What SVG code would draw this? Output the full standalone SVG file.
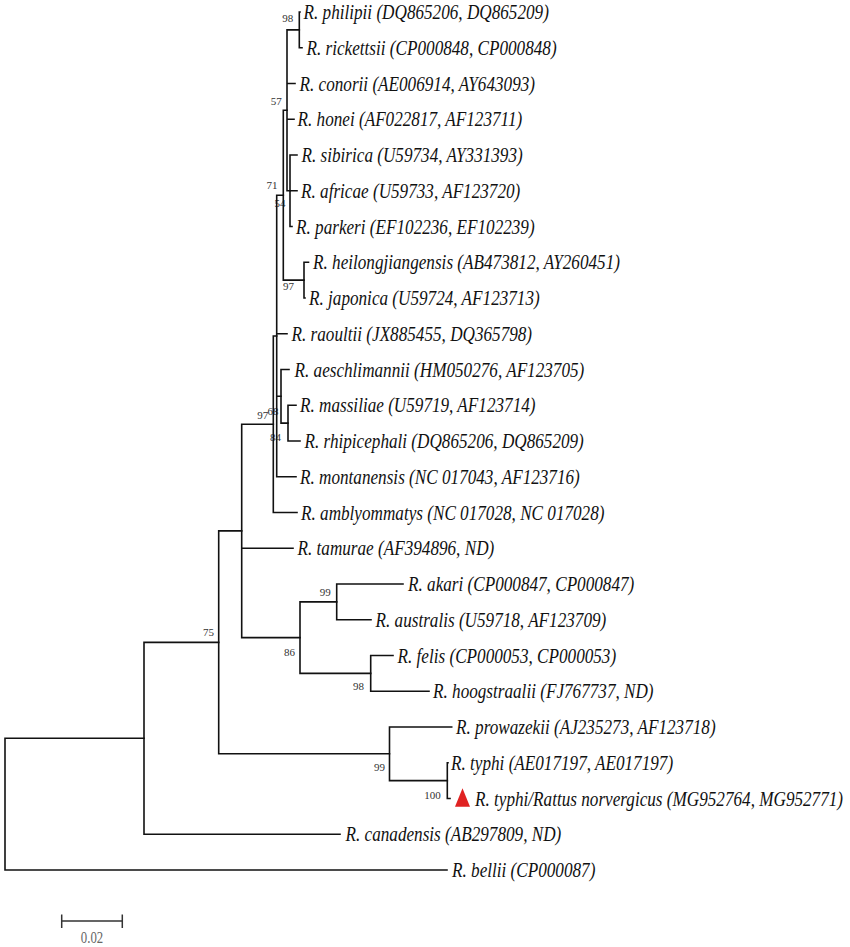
<svg xmlns="http://www.w3.org/2000/svg" width="850" height="947" viewBox="0 0 850 947">
<style>
.lf{font-family:"Liberation Serif","Times New Roman",serif;font-style:italic;font-size:22px;fill:#111}
.bs{font-family:"Liberation Serif","Times New Roman",serif;font-size:11px;fill:#333;text-anchor:end}
.br{fill:none;stroke:#111;stroke-width:1.6;stroke-linecap:square}
.sc{font-family:"Liberation Serif","Times New Roman",serif;font-size:16px;fill:#666;text-anchor:middle}
</style>
<rect width="850" height="947" fill="#fff"/>
<g id="bootstrap">
<text class="bs" x="293.3" y="22">98</text>
<text class="bs" x="281.7" y="104.5">57</text>
<text class="bs" x="277.5" y="188.5">71</text>
<text class="bs" x="285.5" y="206.5">54</text>
<text class="bs" x="294" y="290">97</text>
<text class="bs" x="268.3" y="418.5">97</text>
<text class="bs" x="278.5" y="415">68</text>
<text class="bs" x="281" y="441">84</text>
<text class="bs" x="214" y="635.5">75</text>
<text class="bs" x="330.7" y="595.5">99</text>
<text class="bs" x="295" y="655.5">86</text>
<text class="bs" x="364" y="690">98</text>
<text class="bs" x="385" y="771">99</text>
<text class="bs" x="440.7" y="799">100</text>
</g>
<g id="connectors" class="br">
<path d="M5,738.3 V870 M5,738.3 H144 M5,870 H447"/>
<path d="M144,642.4 V834.25 M144,642.4 H218.7 M144,834.25 H340"/>
<path d="M218.7,530.9 V753.8 M218.7,530.9 H241.7 M218.7,753.8 H389.5"/>
<path d="M241.7,424.25 V637.6 M241.7,424.25 H273.3 M241.7,548.25 H293 M241.7,637.6 H300"/>
<path d="M273.3,336 V512.5 M273.3,336 H276.7 M273.3,512.5 H297"/>
<path d="M276.7,195.2 V476.75 M276.7,195.2 H283.3 M276.7,333.75 H287 M276.7,396.3 H281 M276.7,476.75 H296"/>
<path d="M281,369.5 V423.1 M281,369.5 H289 M281,423.1 H288"/>
<path d="M288,405.25 V441 M288,405.25 H296 M288,441 H300"/>
<path d="M283.3,110.3 V280.1 M283.3,110.3 H287 M283.3,280.1 H304"/>
<path d="M304,262.25 V298 M304,262.25 H308.5 M304,298 H305"/>
<path d="M287,29.9 V190.75 M287,29.9 H299.3 M287,83.5 H295 M287,119.25 H294 M287,190.75 H290"/>
<path d="M299.3,12 V47.75 M299.3,12 H300 M299.3,47.75 H302"/>
<path d="M290,155 V226.5 M290,155 H297 M290,190.75 H297 M290,226.5 H292"/>
<path d="M300,601.9 V673.4 M300,601.9 H336.7 M300,673.4 H370.7"/>
<path d="M336.7,584 V619.75 M336.7,584 H403 M336.7,619.75 H371"/>
<path d="M370.7,655.5 V691.25 M370.7,655.5 H393 M370.7,691.25 H429"/>
<path d="M389.5,727 V780.6 M389.5,727 H451.7 M389.5,780.6 H447.3"/>
<path d="M447.3,762.75 V798.5 M447.3,762.75 H448 M447.3,798.5 H450"/>
</g>
<g id="leaf-philipii"><text class="lf" transform="translate(303.5,19) scale(0.78,1)">R. philipii (DQ865206, DQ865209)</text></g>
<g id="leaf-rickettsii"><text class="lf" transform="translate(306.5,54.75) scale(0.78,1)">R. rickettsii (CP000848, CP000848)</text></g>
<g id="leaf-conorii"><text class="lf" transform="translate(299.5,90.5) scale(0.78,1)">R. conorii (AE006914, AY643093)</text></g>
<g id="leaf-honei"><text class="lf" transform="translate(297.5,126.25) scale(0.78,1)">R. honei (AF022817, AF123711)</text></g>
<g id="leaf-sibirica"><text class="lf" transform="translate(301.5,162) scale(0.78,1)">R. sibirica (U59734, AY331393)</text></g>
<g id="leaf-africae"><text class="lf" transform="translate(301,197.75) scale(0.78,1)">R. africae (U59733, AF123720)</text></g>
<g id="leaf-parkeri"><text class="lf" transform="translate(296,233.5) scale(0.78,1)">R. parkeri (EF102236, EF102239)</text></g>
<g id="leaf-heilongjiangensis"><text class="lf" transform="translate(313,269.25) scale(0.78,1)">R. heilongjiangensis (AB473812, AY260451)</text></g>
<g id="leaf-japonica"><text class="lf" transform="translate(309,305) scale(0.78,1)">R. japonica (U59724, AF123713)</text></g>
<g id="leaf-raoultii"><text class="lf" transform="translate(291.5,340.75) scale(0.78,1)">R. raoultii (JX885455, DQ365798)</text></g>
<g id="leaf-aeschlimannii"><text class="lf" transform="translate(294.5,376.5) scale(0.78,1)">R. aeschlimannii (HM050276, AF123705)</text></g>
<g id="leaf-massiliae"><text class="lf" transform="translate(300,412.25) scale(0.78,1)">R. massiliae (U59719, AF123714)</text></g>
<g id="leaf-rhipicephali"><text class="lf" transform="translate(304.5,448) scale(0.78,1)">R. rhipicephali (DQ865206, DQ865209)</text></g>
<g id="leaf-montanensis"><text class="lf" transform="translate(300,483.75) scale(0.78,1)">R. montanensis (NC 017043, AF123716)</text></g>
<g id="leaf-amblyommatys"><text class="lf" transform="translate(301,519.5) scale(0.78,1)">R. amblyommatys (NC 017028, NC 017028)</text></g>
<g id="leaf-tamurae"><text class="lf" transform="translate(297.5,555.25) scale(0.78,1)">R. tamurae (AF394896, ND)</text></g>
<g id="leaf-akari"><text class="lf" transform="translate(408,591) scale(0.78,1)">R. akari (CP000847, CP000847)</text></g>
<g id="leaf-australis"><text class="lf" transform="translate(375.5,626.75) scale(0.78,1)">R. australis (U59718, AF123709)</text></g>
<g id="leaf-felis"><text class="lf" transform="translate(397.5,662.5) scale(0.78,1)">R. felis (CP000053, CP000053)</text></g>
<g id="leaf-hoogstraalii"><text class="lf" transform="translate(433,698.25) scale(0.78,1)">R. hoogstraalii (FJ767737, ND)</text></g>
<g id="leaf-prowazekii"><text class="lf" transform="translate(456,734) scale(0.78,1)">R. prowazekii (AJ235273, AF123718)</text></g>
<g id="leaf-typhi"><text class="lf" transform="translate(451,769.75) scale(0.78,1)">R. typhi (AE017197, AE017197)</text></g>
<g id="leaf-typhi-rattus"><polygon points="455,806.7 470,806.7 462.5,788.3" fill="#e02222"/><text class="lf" transform="translate(475,805.5) scale(0.78,1)">R. typhi/Rattus norvergicus (MG952764, MG952771)</text></g>
<g id="leaf-canadensis"><text class="lf" transform="translate(345.5,841.25) scale(0.78,1)">R. canadensis (AB297809, ND)</text></g>
<g id="leaf-bellii"><text class="lf" transform="translate(452,877) scale(0.78,1)">R. bellii (CP000087)</text></g>
<g id="scale-bar">
<path d="M61.7,921 H122.3 M61.7,914.5 V928 M122.3,914.5 V928" fill="none" stroke="#333" stroke-width="1.5"/>
<text class="sc" transform="translate(92,943) scale(0.8,1)">0.02</text>
</g>
</svg>
